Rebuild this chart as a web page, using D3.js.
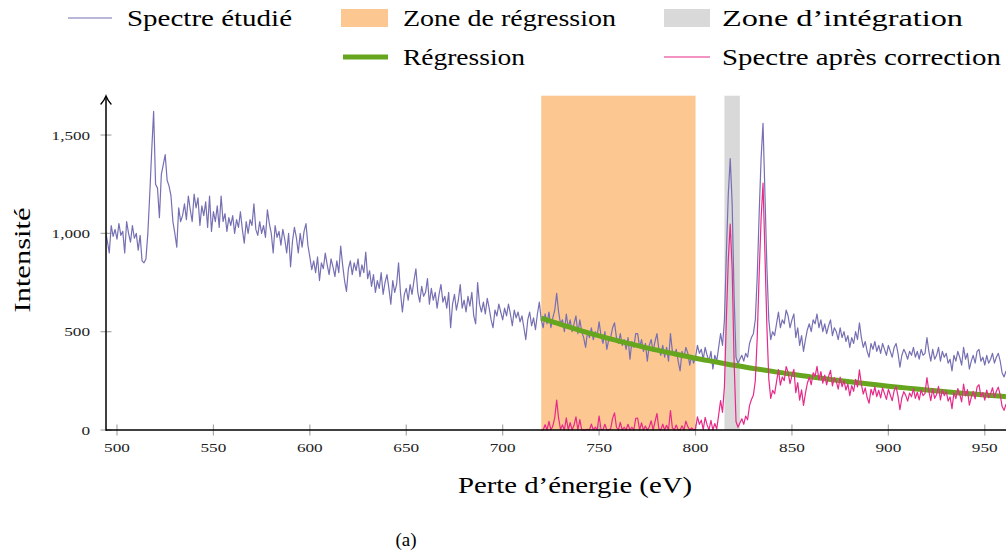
<!DOCTYPE html>
<html><head><meta charset="utf-8">
<script src="https://cdn.jsdelivr.net/npm/d3@7"></script>
<style>
html,body{margin:0;padding:0;background:#fff;}
</style></head>
<body><svg id="c" width="1006" height="552" font-family="'Liberation Serif', 'DejaVu Serif', 'Times New Roman', serif"></svg>
<script>
// ---------- data ----------
const spectrumStart = 494;   // eV of first value, 1 eV step
const spectrumStep = 1;
const spectrumValues = [
 1010, 960, 900, 1040, 985, 1020,
 970, 1050, 990, 1010, 900, 1060, 1000, 955, 1040, 975,
 1000, 915, 990, 860, 850, 870, 1000, 1200, 1420, 1620,
 1250, 1230, 1080, 1300, 1350, 1400, 1270, 1240, 1190, 1060,
 1000, 930, 1130, 1060, 1090, 1150, 1070, 1190, 1120, 1060,
 1200, 1130, 1180, 1040, 1140, 1090, 1160, 1030, 1190, 1010,
 1110, 1060, 1140, 1030, 1190, 1060, 1100, 1010, 1080, 1040,
 1090, 1000, 1070, 1030, 1110, 1020, 950, 1060, 1000, 1070,
 1040, 1150, 1020, 990, 1060, 1000, 1040, 980, 1120, 1050,
 1000, 900, 1040, 980, 1010, 940, 1020, 970, 900, 1000,
 830, 960, 1030, 980, 900, 1000, 930, 1010, 1050, 940,
 880, 815, 860, 800, 880, 760, 850, 820, 900, 840,
 790, 870, 830, 780, 860, 800, 935, 840, 760, 705,
 820, 860, 790, 850, 810, 870, 780, 840, 800, 905,
 770, 810, 730, 790, 700, 760, 720, 800, 690, 750,
 790, 720, 640, 760, 700, 740, 850, 700, 600, 690,
 720, 660, 740, 690, 760, 820, 700, 650, 730, 680,
 700, 770, 640, 720, 660, 700, 620, 690, 740, 650,
 680, 620, 700, 520, 640, 690, 610, 660, 740, 620,
 660, 600, 680, 630, 700, 580, 540, 750, 640, 600,
 650, 590, 670, 620, 560, 520, 610, 580, 640, 600,
 560, 620, 580, 640, 590, 530, 610, 570, 600, 550,
 580, 520, 460, 560, 600, 530, 570, 510, 590, 650,
 560, 520, 590, 540, 600, 520, 570, 610, 695, 600,
 540, 560, 500, 590, 520, 560, 500, 540, 580, 490,
 560, 500, 470, 420, 500, 470, 520, 460, 500, 480,
 550, 480, 440, 500, 410, 460, 470, 520, 545, 470,
 440, 490, 430, 460, 410, 470, 360, 450, 420, 490,
 490, 420, 460, 400, 440, 350, 430, 460, 400, 450,
 490, 410, 380, 430, 370, 420, 350, 490, 400, 380,
 410, 350, 300, 400, 370, 420, 390, 330, 380, 340,
 370, 430, 390, 410, 360, 420, 380, 350, 400, 310,
 380, 350, 420, 490, 430, 560, 900, 1200, 1380, 1150,
 680, 370, 340, 360, 380, 350, 390, 370, 440, 470,
 490, 560, 780, 1100, 1380, 1560, 1200, 830, 560, 460,
 500, 480, 540, 600, 520, 560, 540, 610, 580, 520,
 560, 590, 470, 520, 430, 480, 400, 460, 510, 540,
 500, 560, 540, 590, 520, 560, 500, 540, 490, 530,
 560, 480, 520, 500, 460, 520, 470, 500, 450, 480,
 420, 470, 440, 500, 460, 545, 470, 420, 450, 400,
 370, 440, 410, 450, 400, 430, 390, 440, 410, 380,
 430, 400, 370, 420, 440, 390, 320, 380, 410, 390,
 360, 400, 380, 420, 370, 400, 360, 410, 380, 390,
 470, 400, 350, 410, 360, 380, 420, 350, 400, 370,
 390, 340, 360, 300, 380, 350, 400, 370, 330, 420,
 360, 390, 310, 350, 380, 340, 400, 410, 350, 370,
 330, 380, 340, 360, 390, 340, 370, 390, 350, 290,
 270, 300
];

const correctedStart = 720;
const correctedValues = [
 0, 0, 27, 0, 44, 0, 20, 63, 152, 60,
 3, 26, 0, 62, 0, 38, 0, 24, 67, 0,
 53, 0, 0, 0, 4, 0, 30, 0, 15, 0,
 71, 4, 0, 29, 0, 0, 7, 59, 87, 14,
 0, 39, 0, 14, 0, 29, 0, 14, 0, 59,
 61, 0, 36, 0, 20, 0, 15, 47, 0, 42,
 84, 6, 0, 30, 0, 24, 0, 99, 11, 0,
 25, 0, 0, 21, 0, 45, 17, 0, 11, 0,
 5, 67, 29, 50, 2, 64, 26, 0, 49, 0,
 33, 5, 77, 150, 90, 222, 564, 866, 1047, 819,
 351, 43, 14, 36, 57, 29, 71, 52, 124, 155,
 177, 249, 470, 792, 1073, 1255, 896, 528, 259, 161,
 202, 184, 245, 307, 228, 270, 251, 323, 294, 236,
 277, 308, 190, 241, 152, 204, 125, 186, 238, 269,
 230, 291, 273, 324, 255, 297, 238, 279, 230, 272,
 303, 224, 265, 247, 208, 269, 220, 251, 203, 234,
 175, 226, 197, 258, 219, 306, 232, 183, 214, 165,
 136, 207, 178, 219, 170, 202, 163, 214, 185, 156,
 207, 178, 149, 200, 221, 172, 103, 164, 195, 176,
 147, 188, 169, 210, 161, 192, 153, 204, 175, 186,
 267, 198, 149, 210, 161, 181, 222, 153, 204, 175,
 196, 147, 168, 109, 190, 160, 211, 182, 143, 234,
 174, 205, 126, 166, 197, 158, 219, 230, 170, 191,
 152, 203, 164, 184, 215, 166, 197, 218, 178, 119,
 100, 131
];

const fitEnergies = [720,730,740,750,760,770,780,790,800,810,820,830,840,850,860,870,880,890,900,910,920,930,940,950,960,961];
const fitValues   = [569,537,507,479,453,429,406,385,365,347,329,313,298,283,270,257,245,234,223,213,203,194,186,178,170,169];

const regressionZone = [720, 800];
const integrationZone = [815, 823];

const xTicks = [500,550,600,650,700,750,800,850,900,950];
const yTicks = [0,500,1000,1500];

const legendLabels = ["Spectre étudié","Zone de régression","Zone d’intégration","Régression","Spectre après correction"];
const xLabel = "Perte d’énergie (eV)";
const yLabel = "Intensité";
const caption = "(a)";

// ---------- drawing ----------
const colors = {raw:"#7570b3", corr:"#e7298a", fit:"#66a61e", zoneR:"#fdc791", zoneI:"#d9d9d9"};
const svg = d3.select("#c");
const x = d3.scaleLinear().domain([494.3, 961]).range([106, 1006]);
const y = d3.scaleLinear().domain([0, 1700]).range([430, 95.7]);
const fmt = d3.format(",");
const labelWidth = s => s.split("").reduce((a,c)=>a+(c===","?4:8.6),0);

const raw = spectrumValues.map((v,i)=>({e: spectrumStart + i*spectrumStep, v}));
const corr = correctedValues.map((v,i)=>({e: correctedStart + i, v}));
const fit = fitEnergies.map((e,i)=>({e, v: fitValues[i]}));

svg.append("defs").append("clipPath").attr("id","clip")
  .append("rect").attr("x",106).attr("y",90).attr("width",900).attr("height",341);

// zones
svg.append("rect").attr("x",x(regressionZone[0])).attr("width",x(regressionZone[1])-x(regressionZone[0]))
  .attr("y",y(1700)).attr("height",y(0)-y(1700)).attr("fill",colors.zoneR);
svg.append("rect").attr("x",x(integrationZone[0])).attr("width",x(integrationZone[1])-x(integrationZone[0]))
  .attr("y",y(1700)).attr("height",y(0)-y(1700)).attr("fill",colors.zoneI);

// ticks (gray)
const tickG = svg.append("g").attr("stroke","#a8a8a8").attr("stroke-width",1.2);
xTicks.forEach(t=>tickG.append("line").attr("x1",x(t)).attr("x2",x(t)).attr("y1",y(0)-5.5).attr("y2",y(0)+5.5));
yTicks.forEach(t=>tickG.append("line").attr("y1",y(t)).attr("y2",y(t)).attr("x1",100.5).attr("x2",111.5));

const line = d3.line().x(d=>x(d.e)).y(d=>y(d.v));
const plot = svg.append("g").attr("clip-path","url(#clip)");
plot.append("path").datum(raw).attr("d",line).attr("fill","none").attr("stroke",colors.raw).attr("stroke-width",1.2).attr("stroke-linejoin","round");
plot.append("path").datum(fit).attr("d",line.curve(d3.curveMonotoneX)).attr("fill","none").attr("stroke",colors.fit).attr("stroke-width",5);
line.curve(d3.curveLinear);
plot.append("path").datum(corr).attr("d",line).attr("fill","none").attr("stroke",colors.corr).attr("stroke-width",1.2).attr("stroke-linejoin","round");

// axes lines
svg.append("line").attr("x1",106).attr("x2",1006).attr("y1",y(0)).attr("y2",y(0)).attr("stroke","#000").attr("stroke-width",1.5);
svg.append("line").attr("x1",106).attr("x2",106).attr("y1",y(0)+0.75).attr("y2",97).attr("stroke","#000").attr("stroke-width",1.5);
svg.append("path").attr("d","M101,104 Q104.5,100 106,96 Q107.5,100 111,104").attr("fill","none").attr("stroke","#000").attr("stroke-width",1.4).attr("stroke-linecap","round");

// tick labels
svg.append("g").selectAll("text").data(xTicks).join("text")
  .attr("x",d=>x(d)).attr("y",452).attr("text-anchor","middle").attr("font-size",13).attr("fill","#222")
  .attr("textLength",d=>labelWidth(fmt(d))).attr("lengthAdjust","spacingAndGlyphs")
  .text(d=>fmt(d));
svg.append("g").selectAll("text").data(yTicks).join("text")
  .attr("x",d=>90-labelWidth(fmt(d))).attr("y",d=>y(d)+4.5).attr("font-size",13).attr("fill","#222")
  .attr("textLength",d=>labelWidth(fmt(d))).attr("lengthAdjust","spacingAndGlyphs")
  .text(d=>fmt(d));

// axis titles
svg.append("text").attr("x",575).attr("y",493).attr("text-anchor","middle").attr("font-size",24)
  .attr("textLength",234).attr("lengthAdjust","spacingAndGlyphs").text(xLabel);
svg.append("text").attr("transform","translate(30,260) rotate(-90)").attr("text-anchor","middle").attr("font-size",24)
  .attr("textLength",105).attr("lengthAdjust","spacingAndGlyphs").text(yLabel);
svg.append("text").attr("x",406).attr("y",546).attr("text-anchor","middle").attr("font-size",19).text(caption);

// legend
const lg = svg.append("g");
const legendItems = [
  {type:"line", color:colors.raw, w:1.2, x0:68, x1:112, yc:18, tx:127, tw:165, label:legendLabels[0]},
  {type:"rect", color:colors.zoneR, x0:341, x1:388, yc:18, tx:403, tw:213, label:legendLabels[1]},
  {type:"rect", color:colors.zoneI, x0:664, x1:710, yc:18, tx:722, tw:241, label:legendLabels[2]},
  {type:"line", color:colors.fit, w:5, x0:343, x1:388, yc:57, tx:403, tw:122, label:legendLabels[3]},
  {type:"line", color:colors.corr, w:1.2, x0:664, x1:710, yc:57, tx:722, tw:279, label:legendLabels[4]}
];
legendItems.forEach(it=>{
  if(it.type==="line"){
    lg.append("line").attr("x1",it.x0).attr("x2",it.x1).attr("y1",it.yc).attr("y2",it.yc).attr("stroke",it.color).attr("stroke-width",it.w);
  } else {
    lg.append("rect").attr("x",it.x0).attr("width",it.x1-it.x0).attr("y",it.yc-9).attr("height",18).attr("fill",it.color);
  }
  lg.append("text").attr("x",it.tx).attr("y",it.yc+8).attr("font-size",24)
    .attr("textLength",it.tw).attr("lengthAdjust","spacingAndGlyphs").text(it.label);
});
</script>
</body></html>
